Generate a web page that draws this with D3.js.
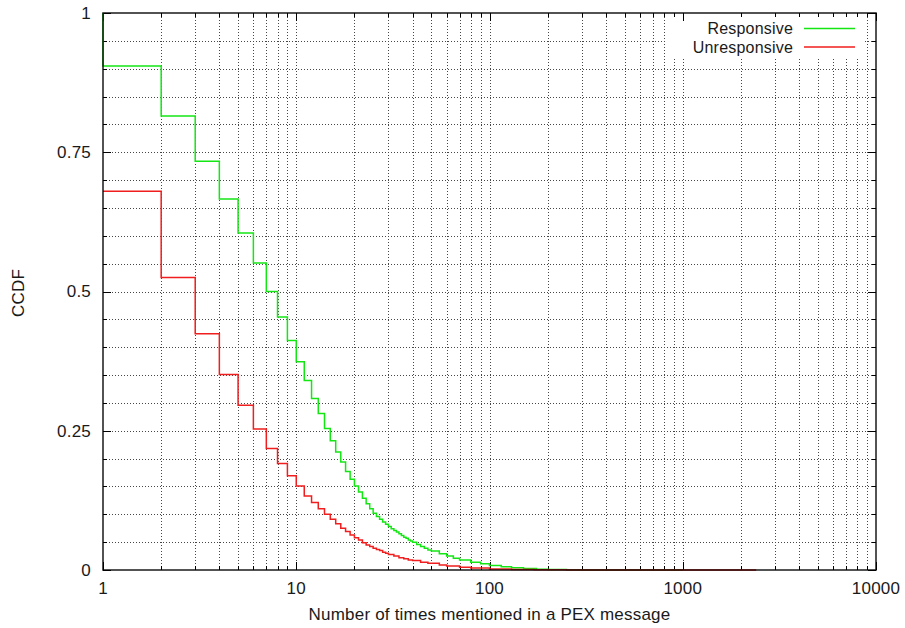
<!DOCTYPE html>
<html>
<head>
<meta charset="utf-8">
<script src="https://cdn.jsdelivr.net/npm/d3@7"></script>
<style>
  html, body { margin: 0; padding: 0; background: #fff; }
  svg { display: block; font-family: "Liberation Sans", Arial, Helvetica, sans-serif; }
  svg text { letter-spacing: 0.2px; }
</style>
</head>
<body>
<svg id="chart" width="905" height="628"></svg>
<script>
// CCDF step data: value holds on [x_i, x_{i+1})
const responsiveX = [1, 1, 2, 3, 4, 5, 6, 7, 8, 9, 10, 11, 12, 13, 14, 15, 16, 17, 18, 19, 20,
  21, 22, 23, 24, 25, 26, 27, 28, 29, 30, 31, 32, 33, 34, 35, 36, 37, 38, 39, 40,
  42, 44, 46, 48, 50, 55, 60, 65, 70, 80, 90, 100, 115, 130, 150, 175, 200, 250, 300, 1000];
const responsiveY = [1.0, 0.905, 0.815, 0.734, 0.666, 0.605, 0.551, 0.500, 0.454, 0.412, 0.374,
  0.340, 0.308, 0.281, 0.254, 0.232, 0.212, 0.194, 0.177, 0.163, 0.151,
  0.140, 0.129, 0.119, 0.110, 0.102, 0.096, 0.091, 0.086, 0.082, 0.078,
  0.074, 0.071, 0.068, 0.065, 0.062, 0.059, 0.057, 0.054, 0.052, 0.050,
  0.046, 0.042, 0.039, 0.036, 0.034, 0.029, 0.025, 0.021, 0.018, 0.014,
  0.011, 0.008, 0.006, 0.004, 0.0025, 0.0015, 0.0008, 0.0003, 0, 0];

const unresponsiveX = [1, 2, 3, 4, 5, 6, 7, 8, 9, 10, 11, 12, 13, 14, 15, 16, 17, 18, 19, 20,
  21, 22, 23, 24, 25, 26, 27, 28, 29, 30, 32, 34, 36, 38, 40, 44, 48, 55, 60, 70,
  80, 100, 130, 170, 250, 2400];
const unresponsiveY = [0.680, 0.525, 0.424, 0.351, 0.296, 0.253, 0.218, 0.191, 0.169, 0.151,
  0.133, 0.121, 0.110, 0.100, 0.091, 0.083, 0.075, 0.069, 0.063, 0.058,
  0.054, 0.049, 0.045, 0.042, 0.039, 0.037, 0.035, 0.032, 0.030, 0.028,
  0.025, 0.022, 0.020, 0.018, 0.017, 0.014, 0.012, 0.009, 0.007, 0.005,
  0.0035, 0.002, 0.001, 0.0004, 0, 0];

const xTickValues = [1, 10, 100, 1000, 10000];
const xTickLabels = ["1", "10", "100", "1000", "10000"];
const yTickValues = [0, 0.25, 0.5, 0.75, 1];
const yTickLabels = ["0", "0.25", "0.5", "0.75", "1"];
const seriesNames = ["Responsive", "Unresponsive"];
const seriesColors = ["#14e614", "#f01e1e"];

const svg = d3.select("#chart");
const W = 905, H = 628;
const m = { left: 103, right: 29, top: 13, bottom: 58 };
const x = d3.scaleLog().domain([1, 10000]).range([m.left, W - m.right]);
const y = d3.scaleLinear().domain([0, 1]).range([H - m.bottom, m.top]);

// Minor positions: 1..9 per decade, and every 0.05 on y
const xMinor = [];
for (let d = 1; d < 10000; d *= 10) for (let k = 2; k <= 9; k++) xMinor.push(d * k);
const xAll = xMinor.concat([10, 100, 1000]);
const yMinor = d3.range(1, 20).map(i => i * 0.05);

// Grid
const grid = svg.append("g").attr("stroke", "#000").attr("stroke-width", 1)
  .attr("stroke-dasharray", "1,2").attr("opacity", 0.72).attr("shape-rendering", "crispEdges");
grid.selectAll("line.gx").data(xAll).join("line").attr("class", "gx")
  .attr("x1", d => Math.round(x(d)) + 0.5).attr("x2", d => Math.round(x(d)) + 0.5)
  .attr("y1", y(0)).attr("y2", y(1));
grid.selectAll("line.gy").data(yMinor).join("line").attr("class", "gy")
  .attr("x1", x(1)).attr("x2", x(10000))
  .attr("y1", d => Math.round(y(d)) + 0.5).attr("y2", d => Math.round(y(d)) + 0.5);

// Key background
svg.append("rect").attr("x", 667).attr("y", y(1) + 1).attr("width", 197).attr("height", 44)
  .attr("fill", "#fff");

// Ticks on all four sides
const ticks = svg.append("g").attr("stroke", "#000").attr("stroke-width", 1).attr("shape-rendering", "crispEdges");
const isMajorX = v => xTickValues.includes(v);
const xt = xAll.concat(xTickValues);
ticks.selectAll("line.bt").data(xt).join("line").attr("class", "bt")
  .attr("x1", d => Math.round(x(d)) + 0.5).attr("x2", d => Math.round(x(d)) + 0.5)
  .attr("y1", y(0)).attr("y2", d => y(0) - (isMajorX(d) ? 8 : 4));
ticks.selectAll("line.tt").data(xt).join("line").attr("class", "tt")
  .attr("x1", d => Math.round(x(d)) + 0.5).attr("x2", d => Math.round(x(d)) + 0.5)
  .attr("y1", y(1)).attr("y2", d => y(1) + (isMajorX(d) ? 8 : 4));
const yt = d3.range(0, 21).map(i => i * 0.05);
const isMajorY = v => Math.abs(v * 4 - Math.round(v * 4)) < 1e-6;
ticks.selectAll("line.lt").data(yt).join("line").attr("class", "lt")
  .attr("y1", d => Math.round(y(d)) + 0.5).attr("y2", d => Math.round(y(d)) + 0.5)
  .attr("x1", x(1)).attr("x2", d => x(1) + (isMajorY(d) ? 8 : 4));
ticks.selectAll("line.rt").data(yt).join("line").attr("class", "rt")
  .attr("y1", d => Math.round(y(d)) + 0.5).attr("y2", d => Math.round(y(d)) + 0.5)
  .attr("x1", x(10000)).attr("x2", d => x(10000) - (isMajorY(d) ? 8 : 4));

// Curves
const line = d3.line().x(d => x(d[0])).y(d => y(d[1])).curve(d3.curveStepAfter);
const series = [
  d3.zip(responsiveX, responsiveY),
  d3.zip(unresponsiveX, unresponsiveY)
];
series.forEach((s, i) => {
  svg.append("path").datum(s).attr("d", line)
    .attr("fill", "none").attr("stroke", seriesColors[i]).attr("stroke-width", 1.5);
});

// Border
svg.append("rect").attr("x", x(1)).attr("y", y(1))
  .attr("width", x(10000) - x(1)).attr("height", y(0) - y(1))
  .attr("fill", "none").attr("stroke", "#000").attr("stroke-width", 1.5).attr("opacity", 0.9);

// Tick labels
const txt = "#1a1a1a";
svg.append("g").selectAll("text").data(xTickValues).join("text")
  .attr("x", d => x(d)).attr("y", 594).attr("text-anchor", "middle")
  .attr("font-size", 17).attr("fill", txt)
  .text((d, i) => xTickLabels[i]);
svg.append("g").selectAll("text").data(yTickValues).join("text")
  .attr("x", 91).attr("y", d => y(d)).attr("dy", "0.35em").attr("text-anchor", "end")
  .attr("font-size", 17).attr("fill", txt)
  .text((d, i) => yTickLabels[i]);

// Axis titles
svg.append("text").attr("x", (x(1) + x(10000)) / 2).attr("y", 620).attr("text-anchor", "middle")
  .attr("font-size", 17).attr("fill", txt).text("Number of times mentioned in a PEX message");
svg.append("text").attr("transform", "translate(24,293) rotate(-90)").attr("text-anchor", "middle")
  .attr("font-size", 17).attr("fill", txt).text("CCDF");

// Key
seriesNames.forEach((name, i) => {
  const ky = 28.5 + i * 18.5;
  svg.append("text").attr("x", 793).attr("y", ky).attr("dy", "0.35em").attr("text-anchor", "end")
    .attr("font-size", 16).attr("letter-spacing", "0.5px").attr("fill", txt).text(name);
  svg.append("line").attr("x1", 804).attr("x2", 855).attr("y1", ky).attr("y2", ky)
    .attr("stroke", seriesColors[i]).attr("stroke-width", 1.5);
});
</script>
</body>
</html>
